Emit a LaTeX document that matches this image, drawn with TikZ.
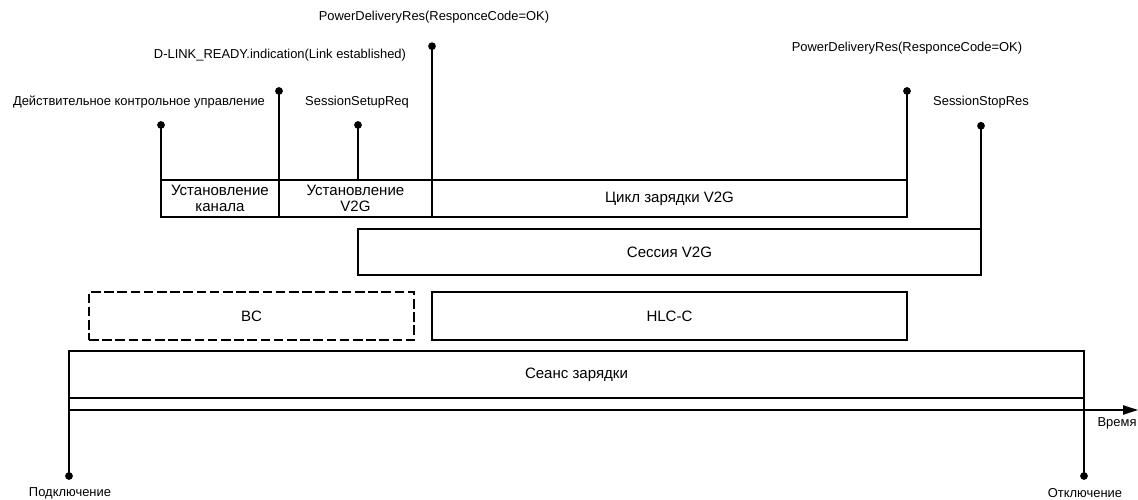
\documentclass[tikz,border=0pt]{standalone}
\usepackage{fontspec}
\setmainfont{Liberation Sans}
\usetikzlibrary{arrows.meta,positioning}

\begin{document}
\begin{tikzpicture}[    font=\fontsize{9.2}{11}\selectfont,
    >={Triangle[length=3.75mm,width=2.3mm]},
    */.tip={Circle[length=1.9mm]},
    base/.style={draw, black, line width=1.3pt, inner sep=0pt, outer sep=0pt},
    phase/.style={base, rectangle, align=center, minimum height=0.925cm, font=\fontsize{10.7}{11.6}\selectfont},
    band/.style={phase, anchor=north west, minimum height=1.175cm},
    evt/.style={inner sep=0pt},
    tick/.style={*-, draw, black, line width=1.3pt}]

\useasboundingbox (0,0) rectangle (28.45,12.5);

\node [phase, anchor=north west, minimum width=2.95cm] (link) at (4.025,8) {Установление\\канала};
\node [phase, minimum width=3.825cm] (setup) [right=0pt of link] {Установление\\V2G};
\node [phase, minimum width=11.875cm] (cycle) [right=0pt of setup] {Цикл зарядки V2G};
\node [band, minimum width=15.575cm, minimum height=1.15cm] (sess) at (8.95,6.775) {Сессия V2G};
\node [band, dashed, dash pattern=on 2.4mm off 0.9mm, minimum width=8.125cm, minimum height=1.2cm] (bc) at (2.225,5.2) {BC};
\node [band, minimum width=11.875cm, minimum height=1.2cm] (hlc) [right=0.45cm of bc] {HLC-C};
\node [band, minimum width=25.375cm] (charge) at (1.725,3.725) {Сеанс зарядки};

\node [evt] (ctrl) at (3.475,9.95) {Действительное контрольное управление};
\node [evt] (dlink) at (7.0,11.125) {D-LINK\_READY.indication(Link established)};
\node [evt] (ssreq) at (8.925,9.95) {SessionSetupReq};
\node [evt] (pdres1) at (10.85,12.075) {PowerDeliveryRes(ResponceCode=OK)};
\node [evt] (pdres2) at (22.675,11.3) {PowerDeliveryRes(ResponceCode=OK)};
\node [evt] (ssres) at (24.525,9.95) {SessionStopRes};
\node [evt] (plug) at (1.75,0.175) {Подключение};
\node [evt] (unplug) at (27.125,0.175) {Отключение};
\node [evt, anchor=east] (time) at (28.42,1.925) {Время};

\coordinate (ctrl dot) at (4.025,9.47);
\coordinate (dlink dot) at (6.975,10.32);
\coordinate (ssreq dot) at (8.95,9.47);
\coordinate (pdres1 dot) at (10.8,11.44);
\coordinate (pdres2 dot) at (22.675,10.32);
\coordinate (ssres dot) at (24.525,9.45);
\coordinate (plug dot) at (1.725,0.505);
\coordinate (unplug dot) at (27.1,0.505);
\coordinate (tend) at (28.45,2.25);

\draw [tick] (ctrl dot) -- (link.north west);
\draw [tick] (dlink dot) -- (link.north east);
\draw [tick] (ssreq dot) -- (sess.west |- setup.north);
\draw [tick] (pdres1 dot) -- (cycle.north west);
\draw [tick] (pdres2 dot) -- (cycle.north east);
\draw [tick] (ssres dot) -- (sess.north east);
\draw [tick] (plug dot) -- (charge.north west);
\draw [tick] (unplug dot) -- (charge.north east);
\draw [->, black, line width=1.3pt] (charge.west |- tend) -- (tend);

\end{tikzpicture}
\end{document}
